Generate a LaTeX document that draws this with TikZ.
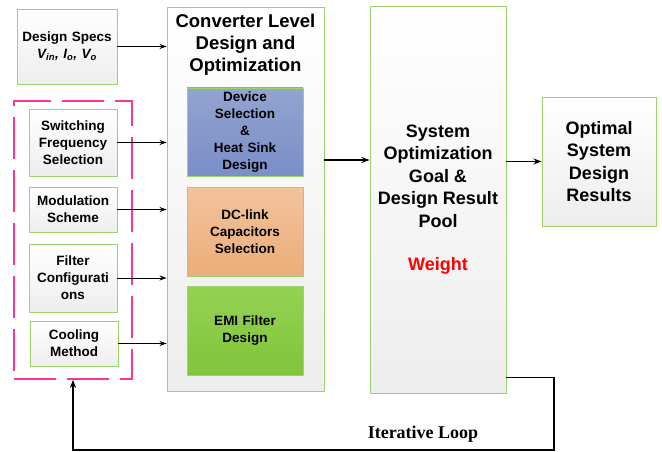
\documentclass[tikz,border=0pt]{standalone}
\usepackage{fontspec}
\setmainfont{Liberation Sans}
\newfontfamily\loopfont{Liberation Serif}
\usepackage{xcolor}
\usepackage{tikz}
\usetikzlibrary{positioning, arrows.meta, calc, shadows}
\definecolor{boxgreen}{HTML}{9BD46A}
\definecolor{shadowyellow}{HTML}{F2E87A}
\definecolor{loopred}{HTML}{FF3399}

\begin{document}
\begin{tikzpicture}[
  x=1pt, y=-1pt,
  block/.style={draw=boxgreen, line width=0.9pt, align=center,
    top color=white, bottom color=black!7, inner sep=1pt,
    drop shadow={shadow xshift=1.2pt, shadow yshift=-1.2pt,
      fill=shadowyellow, opacity=1}},
  small/.style={block, minimum width=88pt, text width=86pt,
    font=\fontsize{13.5}{17}\selectfont\bfseries},
  inner/.style={block, minimum width=116pt, minimum height=88pt,
    text width=112pt, font=\fontsize{13.5}{17}\selectfont\bfseries},
  big/.style={block, font=\fontsize{18}{22.5}\selectfont\bfseries},
  arrow/.style={-{Stealth[length=7pt, width=5pt]}, line width=0.9pt},
  thickarrow/.style={-{Stealth[length=8pt, width=6pt]}, line width=1.8pt}
]
\useasboundingbox (0,0) rectangle (662,452);

% Inputs
\node[small, minimum height=75pt, minimum width=100pt, text width=98pt] (specs) at (67,46.5)
  {Design Specs\\\itshape V\textsubscript{in}, I\textsubscript{o}, V\textsubscript{o}};
\node[small, minimum height=67pt] (sw) at (73,142.5)
  {Switching\\Frequency\\Selection};
\node[small, minimum height=45pt] (mod) at (73,209.5)
  {Modulation\\Scheme};
\node[small, minimum height=68pt] (filt) at (73,278)
  {Filter\\Configurati\\ons};
\node[small, minimum height=45pt] (cool) at (74,343.5)
  {Cooling\\Method};

% Group of design choices
\node[draw=loopred, line width=1.8pt, dash pattern=on 42pt off 11pt,
  minimum width=118pt, minimum height=278pt] (grp) at (73,240) {};

% Converter level
\node[big, minimum width=157pt, minimum height=384pt] (conv) at (245.5,199) {};
\node[font=\fontsize{18.5}{22}\selectfont\bfseries, align=center, anchor=north]
  (convtitle) at (245.5,11) {Converter Level\\Design and\\Optimization};
\node[inner, top color={rgb,255:red,147;green,164;blue,208}, bottom color={rgb,255:red,122;green,142;blue,200}]
  (dev) at (245,132) {Device\\Selection\\\&\\Heat Sink\\Design};
\node[inner, minimum height=89pt,
  top color={rgb,255:red,242;green,195;blue,156}, bottom color={rgb,255:red,236;green,173;blue,122}]
  (dcl) at (245,231.5) {DC-link\\Capacitors\\Selection};
\node[inner, minimum height=89pt,
  top color={rgb,255:red,148;green,210;blue,82}, bottom color={rgb,255:red,128;green,197;blue,58}]
  (emi) at (245,330.5) {EMI Filter\\Design};

% System level
\node[big, minimum width=136pt, minimum height=387pt] (sys) at (438,199.5)
  {System\\Optimization\\Goal \&\\Design Result\\Pool\\[21pt]\textcolor{red}{Weight}};
\node[big, minimum width=114pt, minimum height=129pt] (opt) at (599,161.5)
  {Optimal\\System\\Design\\Results};

% Connections
\draw[arrow] (specs.east) -- (specs.east -| conv.west);
\foreach \n in {sw, mod, filt, cool}
  \draw[arrow] (\n.east) -- (\n.east -| conv.west);
\draw[thickarrow] ([yshift=39pt]conv.east) -- ([yshift=39pt]conv.east -| sys.west);
\draw[thickarrow] (opt.west -| sys.east) -- (opt.west);

% Iterative loop back to design choices
\coordinate (loopc) at (554,450);
\draw[thickarrow] ([yshift=16pt]sys.south east) -| (loopc) -| (grp.south);
\node[font=\loopfont\fontsize{18}{20}\selectfont\bfseries] (looplbl) at (423,434) {Iterative Loop};

\end{tikzpicture}
\end{document}
